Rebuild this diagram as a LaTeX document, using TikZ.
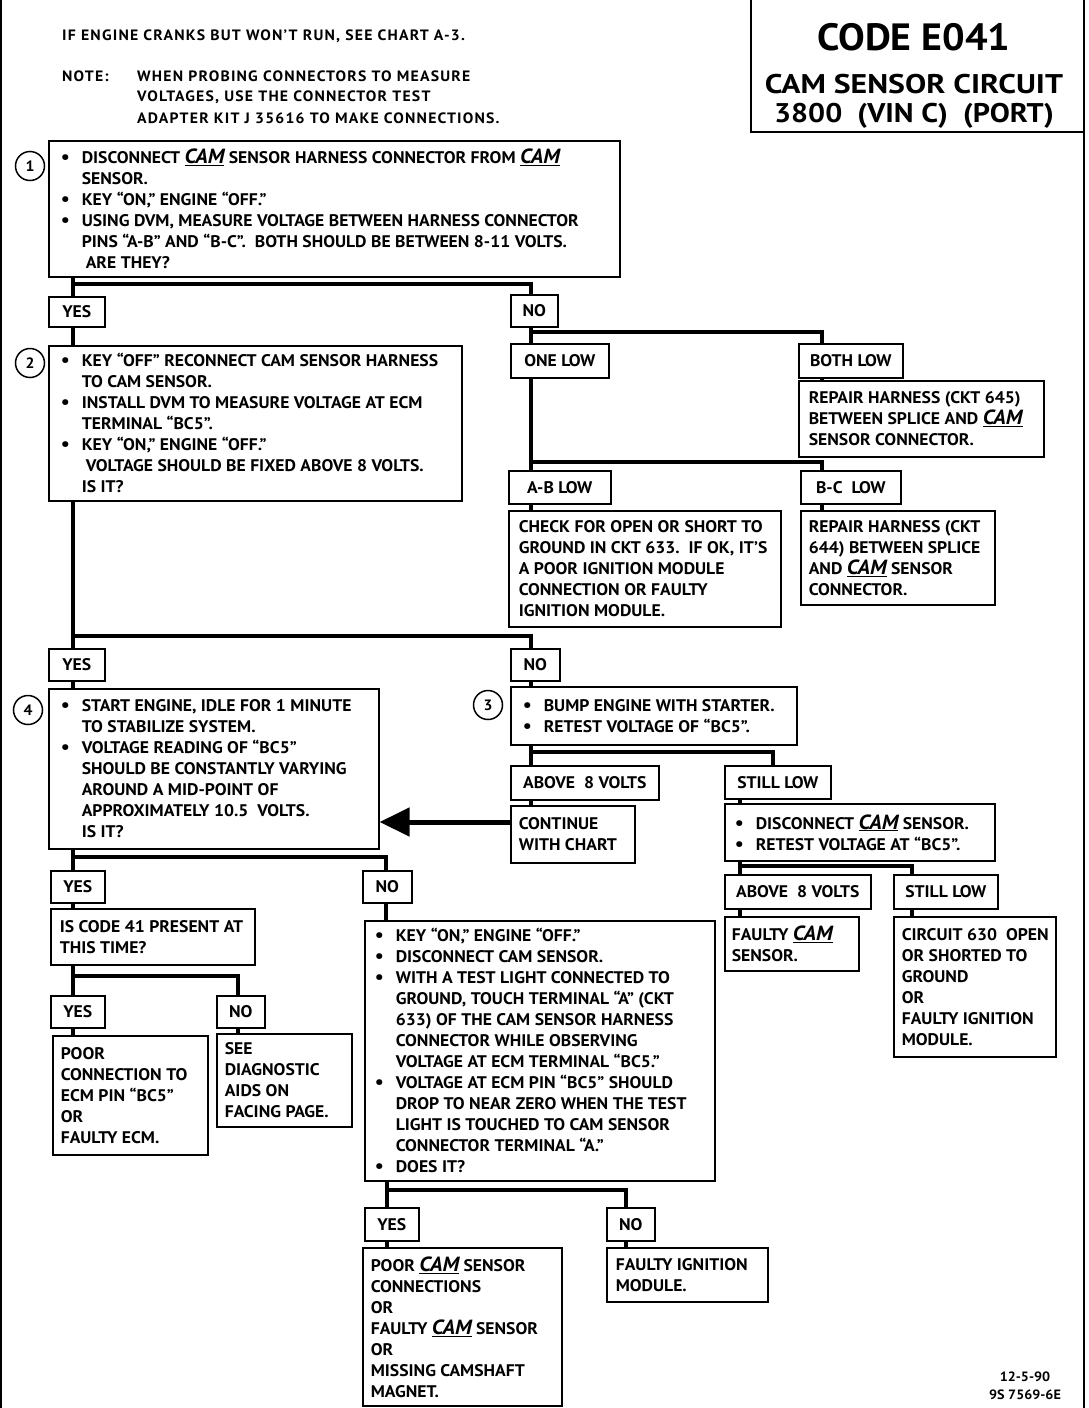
\documentclass[tikz,border=0pt]{standalone}
\usepackage{fontspec}
\setmainfont{PT Sans}[FakeStretch=1.05]
\newfontfamily\hdfont{PT Sans}[FakeStretch=1.05, LetterSpace=8]
\usetikzlibrary{arrows.meta}
\newcommand\bx{\fontsize{16.8}{21}\selectfont\bfseries}
\newcommand\hd{\hdfont\fontsize{15}{21}\selectfont\bfseries}
\newcommand\cam{{\fontsize{20.5}{20}\selectfont\bfseries\itshape\underline{CAM}}}
\newcommand\bt{\makebox[21pt][l]{\fontsize{19}{19}\selectfont\textbullet}}
\newcommand\ind{\hspace*{21pt}}
\newcommand\fw[2]{\makebox[#1][l]{#2}}
\tikzset{
  box/.style={draw, line width=1.6pt, anchor=north west, inner xsep=10pt, inner ysep=0pt, align=left, font=\bx},
  lbl/.style={draw, line width=1.6pt, anchor=north west, inner sep=0pt, font=\bx},
  conn/.style={line width=4.5pt},
  arr/.style={line width=5pt, -{Triangle[length=30pt, width=28pt]}},
  num/.style={circle, draw, line width=1.5pt, minimum size=29pt, inner sep=0pt, font=\fontsize{15}{15}\selectfont\bfseries},
  hdr/.style={anchor=west, inner sep=0pt, font=\hd},
  ttl/.style={anchor=base, inner sep=0pt},
}
\begin{document}
\begin{tikzpicture}[x=1pt,y=-1pt]
\useasboundingbox[fill=white] (0,0) rectangle (1088,1408);
% page frame
\draw[line width=2pt] (1,0) -- (1,1408);
\draw[line width=2pt] (1084,0) -- (1084,1408);
% header
\node[hdr] (h1) at (62,36) {IF ENGINE CRANKS BUT WON’T RUN, SEE CHART A-3.};
\node[hdr] (h2) at (62,76) {NOTE:};
\node[hdr] (h3) at (137,76) {WHEN PROBING CONNECTORS TO MEASURE};
\node[hdr] (h4) at (137,97) {VOLTAGES, USE THE CONNECTOR TEST};
\node[hdr] (h5) at (137,118) {ADAPTER KIT J 35616 TO MAKE CONNECTIONS.};
% title
\draw[line width=1.6pt] (751,0) -- (751,132) -- (1084,132);
\node[ttl, font=\fontsize{38}{38}\selectfont\bfseries] (t1) at (914,50) {CODE E041};
\node[ttl, font=\fontsize{27}{27}\selectfont\bfseries] (t2) at (914,93) {\scalebox{1.12}[1]{CAM SENSOR CIRCUIT}};
\node[ttl, font=\fontsize{27}{27}\selectfont\bfseries] (t3) at (914,122) {\scalebox{1.06}[1]{3800\ \ (VIN C)\ \ (PORT)}};
% step 1
\node[num] (c1) at (30,166) {1};
\node[box, inner xsep=12pt, minimum height=136pt] (b1) at (48,140) {%
\fw{547pt}{\bt DISCONNECT \cam\ SENSOR HARNESS CONNECTOR FROM \cam}\\
\ind SENSOR.\\
\bt KEY “ON,” ENGINE “OFF.”\\
\bt USING DVM, MEASURE VOLTAGE BETWEEN HARNESS CONNECTOR\\
\ind PINS “A-B” AND “B-C”.\ \ BOTH SHOULD BE BETWEEN 8-11 VOLTS.\\
\ind\hspace*{4pt}ARE THEY?};
\node[lbl, minimum width=56pt, minimum height=30pt] (yes1) at (48,296) {YES};
\node[lbl, minimum width=47pt, minimum height=32pt] (no1) at (510,294) {NO};
% NO branch of step 1
\node[lbl, minimum width=98pt, minimum height=34pt] (onelow) at (510,343) {ONE LOW};
\node[lbl, minimum width=104pt, minimum height=34pt] (bothlow) at (798,343) {BOTH LOW};
\node[box, minimum height=76pt] (rep645) at (798,380) {\fw{225pt}{REPAIR HARNESS (CKT 645)}\\ BETWEEN SPLICE AND \cam\\ SENSOR CONNECTOR.};
\node[lbl, minimum width=102pt, minimum height=33pt] (ablow) at (508,470) {A-B LOW};
\node[lbl, minimum width=100pt, minimum height=33pt] (bclow) at (800,470) {B-C\ \ LOW};
\node[box, minimum height=116pt] (chk) at (508,510) {\fw{252pt}{CHECK FOR OPEN OR SHORT TO}\\ GROUND IN CKT 633.\ \ IF OK, IT’S\\ A POOR IGNITION MODULE\\ CONNECTION OR FAULTY\\ IGNITION MODULE.};
\node[box, inner xsep=8pt, minimum height=94pt] (rep644) at (800,510) {\fw{178pt}{REPAIR HARNESS (CKT}\\ 644) BETWEEN SPLICE\\ AND \cam\ SENSOR\\ CONNECTOR.};
% step 2
\node[num] (c2) at (30,363) {2};
\node[box, inner xsep=12pt, minimum height=155pt] (b2) at (48,345) {%
\fw{389pt}{\bt KEY “OFF” RECONNECT CAM SENSOR HARNESS}\\
\ind TO CAM SENSOR.\\
\bt INSTALL DVM TO MEASURE VOLTAGE AT ECM\\
\ind TERMINAL “BC5”.\\
\bt KEY “ON,” ENGINE “OFF.”\\
\ind\hspace*{4pt}VOLTAGE SHOULD BE FIXED ABOVE 8 VOLTS.\\
\ind IS IT?};
\node[lbl, minimum width=56pt, minimum height=32pt] (yes2) at (48,648) {YES};
\node[lbl, minimum width=49pt, minimum height=32pt] (no2) at (510,648) {NO};
% step 4
\node[num] (c4) at (28,710) {4};
\node[box, inner xsep=12pt, minimum height=160pt] (b4) at (48,688) {%
\fw{306pt}{\bt START ENGINE, IDLE FOR 1 MINUTE}\\
\ind TO STABILIZE SYSTEM.\\
\bt VOLTAGE READING OF “BC5”\\
\ind SHOULD BE CONSTANTLY VARYING\\
\ind AROUND A MID-POINT OF\\
\ind APPROXIMATELY 10.5\ \ VOLTS.\\
\ind IS IT?};
% step 3
\node[num] (c3) at (488,705) {3};
\node[box, inner xsep=12pt, minimum height=58pt] (b3) at (510,686) {%
\fw{262pt}{\bt BUMP ENGINE WITH STARTER.}\\
\bt RETEST VOLTAGE OF “BC5”.};
\node[lbl, minimum width=148pt, minimum height=34pt] (above1) at (510,765) {ABOVE\ \ 8 VOLTS};
\node[lbl, minimum width=106pt, minimum height=33pt] (still1) at (724,765) {STILL LOW};
\node[box, inner xsep=8pt, minimum height=57pt] (cont) at (510,805) {\fw{108pt}{CONTINUE}\\ WITH CHART};
\node[box, inner xsep=10pt, minimum height=57pt] (disc) at (724,803) {%
\fw{250pt}{\bt DISCONNECT \cam\ SENSOR.}\\
\bt RETEST VOLTAGE AT “BC5”.};
\node[lbl, minimum width=146pt, minimum height=34pt] (above2) at (724,874) {ABOVE\ \ 8 VOLTS};
\node[lbl, minimum width=104pt, minimum height=34pt] (still2) at (893,874) {STILL LOW};
\node[box, inner xsep=7pt, minimum height=54pt] (faulty) at (724,916) {\fw{120pt}{FAULTY \cam}\\ SENSOR.};
\node[box, inner xsep=8pt, minimum height=140pt] (circ) at (893,916) {\fw{146pt}{CIRCUIT 630\ \ OPEN}\\ OR SHORTED TO\\ GROUND\\ OR\\ FAULTY IGNITION\\ MODULE.};
% step 4 outcomes
\node[lbl, minimum width=54pt, minimum height=32pt] (yes3) at (50,870) {YES};
\node[lbl, minimum width=49pt, minimum height=32pt] (no3) at (362,870) {NO};
\node[box, inner xsep=9pt, minimum height=56pt] (code41) at (50,908) {\fw{186pt}{IS CODE 41 PRESENT AT}\\ THIS TIME?};
\node[lbl, minimum width=54pt, minimum height=32pt] (yes4) at (50,995) {YES};
\node[lbl, minimum width=48pt, minimum height=32pt] (no4) at (216,995) {NO};
\node[box, inner xsep=8pt, minimum height=119pt] (poor) at (52,1035) {\fw{139pt}{POOR}\\ CONNECTION TO\\ ECM PIN “BC5”\\ OR\\ FAULTY ECM.};
\node[box, inner xsep=8pt, minimum height=93pt] (see) at (216,1033) {\fw{119pt}{SEE}\\ DIAGNOSTIC\\ AIDS ON\\ FACING PAGE.};
\node[box, inner xsep=10pt, minimum height=260pt] (big) at (364,920) {%
\fw{330pt}{\bt KEY “ON,” ENGINE “OFF.”}\\
\bt DISCONNECT CAM SENSOR.\\
\bt WITH A TEST LIGHT CONNECTED TO\\
\ind GROUND, TOUCH TERMINAL “A” (CKT\\
\ind 633) OF THE CAM SENSOR HARNESS\\
\ind CONNECTOR WHILE OBSERVING\\
\ind VOLTAGE AT ECM TERMINAL “BC5.”\\
\bt VOLTAGE AT ECM PIN “BC5” SHOULD\\
\ind DROP TO NEAR ZERO WHEN THE TEST\\
\ind LIGHT IS TOUCHED TO CAM SENSOR\\
\ind CONNECTOR TERMINAL “A.”\\
\bt DOES IT?};
\node[lbl, minimum width=54pt, minimum height=33pt] (yes5) at (364,1207) {YES};
\node[lbl, minimum width=48pt, minimum height=33pt] (no5) at (606,1207) {NO};
\node[box, inner xsep=8pt, minimum height=158pt] (poorcam) at (362,1247) {\fw{183pt}{POOR \cam\ SENSOR}\\ CONNECTIONS\\ OR\\ FAULTY \cam\ SENSOR\\ OR\\ MISSING CAMSHAFT\\ MAGNET.};
\node[box, inner xsep=9pt, minimum height=54pt] (fim) at (606,1247) {\fw{143pt}{FAULTY IGNITION}\\ MODULE.};
% footer
\node[font=\fontsize{13.5}{18}\selectfont\bfseries, align=center, inner sep=0pt] (foot) at (1025,1386) {12-5-90\\ 9S 7569-6E};
% connector coordinates
\coordinate (xL) at (73,0);
\coordinate (xA) at (531,0);
\coordinate (xB) at (822,0);
\coordinate (xC) at (773,0);
\coordinate (xD) at (740,0);
\coordinate (xE) at (912,0);
\coordinate (xF) at (386,0);
\coordinate (xG) at (387,0);
\coordinate (xH) at (626,0);
\coordinate (xI) at (238,0);
\coordinate (h1) at (0,284);
\coordinate (h2) at (0,332);
\coordinate (h3) at (0,462);
\coordinate (h4) at (0,636);
\coordinate (h5) at (0,752);
\coordinate (h6) at (0,866);
\coordinate (h7) at (0,857);
\coordinate (h8) at (0,976);
\coordinate (h9) at (0,1190);
\coordinate (ha) at (0,822);
% connectors
\draw[conn] (b1.south -| xL) -- (yes1.north -| xL);
\draw[conn] (h1 -| xL) -| (no1.north -| xA);
\draw[conn] (yes1.south -| xL) -- (b2.north -| xL);
\draw[conn] (no1.south -| xA) -- (onelow.north -| xA);
\draw[conn] (h2 -| xA) -| (bothlow.north -| xB);
\draw[conn] (bothlow.south -| xB) -- (rep645.north -| xB);
\draw[conn] (onelow.south -| xA) -- (ablow.north -| xA);
\draw[conn] (h3 -| xA) -| (bclow.north -| xB);
\draw[conn] (ablow.south -| xA) -- (chk.north -| xA);
\draw[conn] (bclow.south -| xB) -- (rep644.north -| xB);
\draw[conn] (b2.south -| xL) -- (yes2.north -| xL);
\draw[conn] (h4 -| xL) -| (no2.north -| xA);
\draw[conn] (yes2.south -| xL) -- (b4.north -| xL);
\draw[conn] (no2.south -| xA) -- (b3.north -| xA);
\draw[conn] (b3.south -| xA) -- (above1.north -| xA);
\draw[conn] (h5 -| xA) -| (still1.north -| xC);
\draw[conn] (above1.south -| xA) -- (cont.north -| xA);
\draw[conn] (still1.south -| xD) -- (disc.north -| xD);
\draw[arr] (cont.west |- ha) -- (b4.east |- ha);
\draw[conn] (disc.south -| xD) -- (above2.north -| xD);
\draw[conn] (h6 -| xD) -| (still2.north -| xE);
\draw[conn] (above2.south -| xD) -- (faulty.north -| xD);
\draw[conn] (still2.south -| xE) -- (circ.north -| xE);
\draw[conn] (b4.south -| xL) -- (yes3.north -| xL);
\draw[conn] (h7 -| xL) -| (no3.north -| xF);
\draw[conn] (yes3.south -| xL) -- (code41.north -| xL);
\draw[conn] (no3.south -| xF) -- (big.north -| xF);
\draw[conn] (code41.south -| xL) -- (yes4.north -| xL);
\draw[conn] (h8 -| xL) -| (no4.north -| xI);
\draw[conn] (yes4.south -| xL) -- (poor.north -| xL);
\draw[conn] (no4.south -| xI) -- (see.north -| xI);
\draw[conn] (big.south -| xG) -- (yes5.north -| xG);
\draw[conn] (h9 -| xG) -| (no5.north -| xH);
\draw[conn] (yes5.south -| xG) -- (poorcam.north -| xG);
\draw[conn] (no5.south -| xH) -- (fim.north -| xH);
\end{tikzpicture}
\end{document}
